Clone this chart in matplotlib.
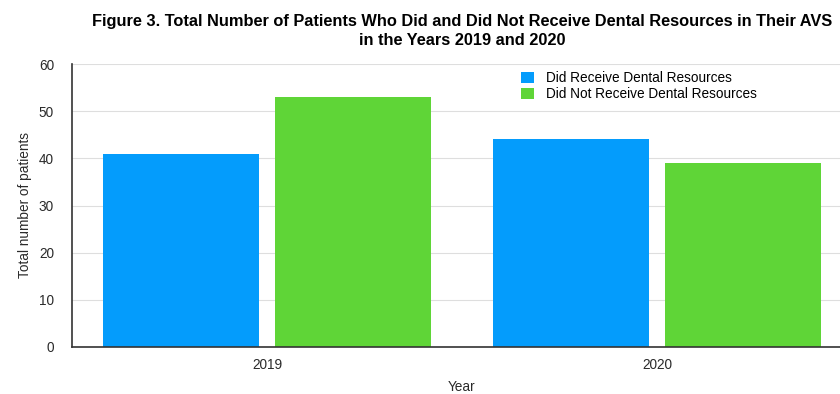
from matplotlib import pyplot as plt
import numpy as np

years = ['2019', '2020']
did_receive = [41, 44]
did_not_receive = [53, 39]
series_names = ['Did Receive Dental Resources', 'Did Not Receive Dental Resources']

BLUE = '#049cfc'
GREEN = '#5fd537'

plt.rcParams['font.family'] = ['Liberation Sans', 'DejaVu Sans']

fig = plt.figure(figsize=(8.4, 3.94), dpi=100)
# axes run a little past the right edge, like the cropped original
ax = fig.add_axes([72/840, 47/394, 780/840, 283/394])

x = np.arange(len(years))
w = 0.4
ax.bar(x - 0.22, did_receive, w, color=BLUE, label=series_names[0], zorder=3)
ax.bar(x + 0.22, did_not_receive, w, color=GREEN, label=series_names[1], zorder=3)

ax.set_xlim(-0.5, 1.5)
ax.set_ylim(0, 60)
ax.set_yticks(range(0, 61, 10))
ax.set_xticks(x)
ax.set_xticklabels(years)
ax.tick_params(axis='both', length=0, labelsize=9.8, colors='#2a2a2a')
ax.tick_params(axis='y', pad=13)
ax.tick_params(axis='x', pad=8)
ax.grid(axis='y', color='#dedede', linewidth=0.8, zorder=0)

for s in ['top', 'right']:
    ax.spines[s].set_visible(False)
for s in ['left', 'bottom']:
    ax.spines[s].set_color('#333333')
    ax.spines[s].set_linewidth(1.2)
    ax.spines[s].set_zorder(4)

ax.set_ylabel('Total number of patients', fontsize=9.8, color='#2a2a2a', labelpad=5)
ax.set_xlabel('Year', fontsize=9.8, color='#2a2a2a', labelpad=6)

ax.legend(loc='upper left', bbox_to_anchor=(0.576, 0.975), frameon=False,
          fontsize=9.8, handlelength=0.9, handleheight=0.9, handletextpad=0.9,
          labelspacing=0.15, borderpad=0, borderaxespad=0)

ax.set_title('Figure 3. Total Number of Patients Who Did and Did Not Receive Dental Resources in Their AVS\nin the Years 2019 and 2020',
             fontsize=11.8, fontweight='bold', family=['Liberation Sans', 'DejaVu Sans'],
             linespacing=1.3, pad=14)

fig.savefig('out.png', dpi=100)
